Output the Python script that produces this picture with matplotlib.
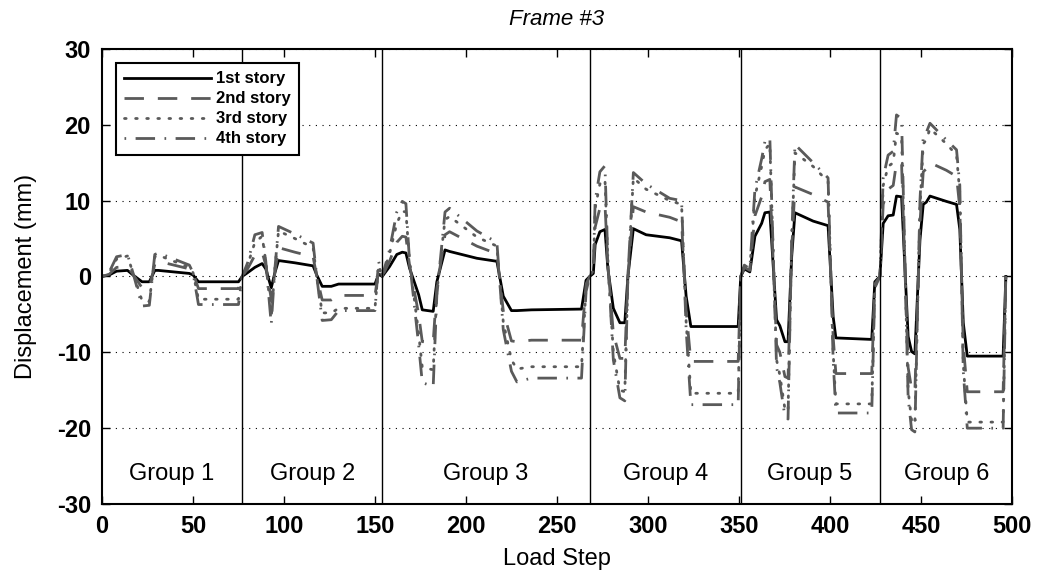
import numpy as np
import matplotlib
matplotlib.use('Agg')
from matplotlib import pyplot as plt

plt.rcParams['font.family'] = ['Liberation Sans', 'DejaVu Sans']
plt.rcParams['axes.unicode_minus'] = False

########## Story displacement vs load step (breakpoints of each loading group) ##########
load_step = [0, 4, 8, 14, 17, 22, 26, 29, 31, 48, 50, 53, 75, 77,
             80, 84, 88, 90, 93, 95, 97, 106, 116, 118, 121, 126, 130, 150, 152, 154,
             158, 162, 165, 167, 169, 174, 176, 182, 184, 188.5, 191, 206, 217, 220.5, 225, 228, 236, 263.5, 266, 268,
             270, 271, 273.6, 276.4, 278, 281, 284.6, 287.3, 289, 292, 299, 312, 318.5, 321, 323.6, 349.6, 351,
             353, 356, 358.8, 362.5, 364.3, 367, 370.7, 372.5, 375.3, 377, 379, 380.8, 390.8, 399, 401.8, 403.3, 423, 424.7, 427.5,
             429.3, 432, 434.8, 436.6, 439.4, 443, 444.9, 446.7, 449.5, 451.3, 453, 455, 464, 469.6, 471.4, 473.3, 475.5, 495.2, 496.7]

story1 = [0, 0.2, 0.7, 0.8, 0.2, -0.7, -0.7, 0.8, 0.8, 0.4, 0.2, -0.7, -0.7, 0,
          0.5, 1.2, 1.7, 1.0, -1.5, 0.5, 2.1, 1.8, 1.4, 0.2, -1.3, -1.3, -1.0, -1.0, 0.3, 0,
          1.3, 2.9, 3.2, 3.1, 1.1, -2.4, -4.4, -4.6, -0.7, 3.5, 3.3, 2.4, 2.0, -2.6, -4.5, -4.5, -4.4, -4.3, -0.5, 0,
          0.4, 4.2, 5.9, 6.2, 1.0, -4.2, -6.1, -6.1, 0, 6.3, 5.5, 5.1, 4.7, -2.6, -6.6, -6.6, 0,
          1.0, 0.6, 5.3, 7.0, 8.4, 8.5, -5.7, -6.5, -8.6, -8.6, 2.6, 8.4, 7.3, 6.7, -5.3, -8.1, -8.3, -0.7, 0,
          7.0, 8.0, 8.1, 10.6, 10.5, -7.9, -9.9, -10.2, 4.8, 9.5, 9.8, 10.6, 9.9, 9.5, 6.2, -6.1, -10.5, -10.5, 0]

story2 = [0, 0.3, 1.2, 1.3, 0.3, -1.5, -1.5, 1.6, 2.0, 1.0, 0.5, -1.6, -1.6, 0,
          1.0, 2.8, 3.2, 1.5, -3.0, 0.5, 3.8, 3.2, 2.6, 0.0, -3.1, -3.1, -2.5, -2.5, 0.8, 0,
          2.0, 4.5, 5.3, 5.2, 1.5, -5.0, -8.6, -8.6, -1.5, 5.5, 5.9, 4.0, 3.0, -4.5, -8.5, -8.6, -8.4, -8.4, -1.0, 0,
          0.6, 6.5, 9.0, 9.5, 1.5, -7.5, -10.8, -10.8, 0, 9.2, 8.5, 7.8, 7.2, -4.5, -11.2, -11.2, 0,
          1.2, 0.8, 8.0, 10.5, 12.5, 12.8, -9.0, -10.0, -13.2, -13.4, 3.5, 11.8, 10.8, 9.8, -8.0, -12.8, -12.8, -1.0, 0,
          9.5, 11.5, 12.0, 15.0, 14.8, -12.0, -14.8, -15.2, 7.0, 13.8, 14.2, 15.0, 14.0, 13.2, 9.0, -9.0, -15.2, -15.2, 0]

story3 = [0, 0.5, 2.3, 2.7, 0.5, -3.2, -3.3, 2.6, 2.8, 1.2, 0.5, -3.0, -3.0, 0,
          1.5, 4.5, 5.3, 2.0, -5.4, 1.0, 6.0, 5.0, 3.8, 0.0, -4.8, -4.8, -4.2, -4.2, 1.5, 0,
          3.0, 7.0, 8.6, 8.5, 2.0, -7.5, -12.0, -12.3, -2.0, 7.5, 7.9, 5.2, 4.0, -6.0, -11.0, -12.2, -11.9, -11.9, -1.5, 0,
          0.8, 9.0, 12.2, 12.8, 2.0, -10.0, -15.0, -15.2, 0, 13.0, 11.5, 10.0, 9.5, -6.0, -15.4, -15.4, 0,
          1.4, 1.0, 10.5, 14.5, 16.7, 17.5, -11.0, -13.0, -17.5, -17.8, 4.5, 16.3, 14.5, 12.5, -10.0, -16.8, -16.8, -1.3, 0,
          12.0, 14.5, 15.0, 18.9, 18.5, -15.0, -19.0, -19.5, 9.0, 17.5, 18.0, 19.5, 17.5, 16.0, 11.0, -11.5, -19.2, -19.2, 0]

story4 = [0, 0.6, 2.6, 2.9, 0.5, -3.9, -3.8, 2.9, 3.1, 1.5, 0.5, -3.7, -3.7, 0,
          1.8, 5.5, 5.8, 2.0, -6.3, 1.0, 6.6, 5.6, 4.4, 0.0, -5.8, -5.7, -4.5, -4.5, 2.0, 0,
          3.5, 8.5, 9.9, 9.6, 2.0, -9.0, -14.0, -14.5, -2.5, 8.5, 9.0, 6.0, 4.5, -7.0, -12.5, -13.9, -13.4, -13.4, -2.0, 0,
          1.0, 10.0, 13.8, 14.6, 2.0, -11.0, -16.0, -16.4, 0, 13.7, 12.2, 10.3, 10.0, -7.0, -16.9, -16.9, 0,
          1.5, 1.0, 11.5, 15.5, 17.8, 18.3, -12.0, -14.0, -18.5, -18.8, 5.0, 17.4, 15.0, 13.0, -11.0, -18.0, -18.0, -1.5, 0,
          13.0, 16.0, 16.5, 21.3, 20.8, -16.0, -20.2, -20.5, 10.0, 18.5, 19.0, 20.2, 18.0, 16.7, 12.0, -12.5, -20.0, -20.0, 0]

group_edges = [77, 154, 268, 351, 427.5]
group_names = ['Group 1', 'Group 2', 'Group 3', 'Group 4', 'Group 5', 'Group 6']
group_centers = [38.5, 115.5, 211, 309.5, 389, 464]

labels = ['1st story', '2nd story', '3rd story', '4th story']

########## Plot ##########
fig = plt.figure(figsize=(10.41, 5.79), dpi=100)
ax = fig.add_axes([0.098, 0.1295, 0.874, 0.786])

gray = '#5a5a5a'
ax.plot(load_step, story1, color='black', lw=2.0, ls='-', label=labels[0])
ax.plot(load_step, story2, color=gray, lw=2.0, ls=(0, (7, 5)), label=labels[1])
ax.plot(load_step, story3, color=gray, lw=2.0, ls=(0, (0.6, 3.4)), dash_capstyle='round', label=labels[2])
ax.plot(load_step, story4, color=gray, lw=2.0, ls=(0, (0.6, 3.4, 7, 3.4)), label=labels[3])

for e in group_edges:
    ax.axvline(e, color='black', lw=1.0)

for name, c in zip(group_names, group_centers):
    ax.text(c, -26.0, name, ha='center', va='center', fontsize=17)

ax.set_xlim(0, 500)
ax.set_ylim(-30, 30)
ax.set_xticks(np.arange(0, 501, 50))
ax.set_yticks(np.arange(-30, 31, 10))
ax.yaxis.grid(True, ls=(0, (1, 5)), color='black', lw=0.8)
ax.tick_params(direction='in', top=True, right=True, length=6, labelsize=17, width=1, pad=8)
for lab in ax.get_xticklabels() + ax.get_yticklabels():
    lab.set_fontweight('bold')
for s in ax.spines.values():
    s.set_linewidth(1.5)

ax.set_xlabel('Load Step', fontsize=17, labelpad=7)
ax.set_ylabel('Displacement (mm)', fontsize=17, labelpad=14)
ax.set_title('Frame #3', fontsize=16, style='italic', pad=17)

leg = ax.legend(loc='upper left', bbox_to_anchor=(0.0154, 0.969), borderaxespad=0, fancybox=False, framealpha=1,
                edgecolor='black', prop={'weight': 'bold', 'size': 12}, handlelength=5.2,
                labelspacing=0.3, borderpad=0.5, handletextpad=0.3)
leg.get_frame().set_linewidth(1.5)

plt.savefig('out.png', dpi=100)
